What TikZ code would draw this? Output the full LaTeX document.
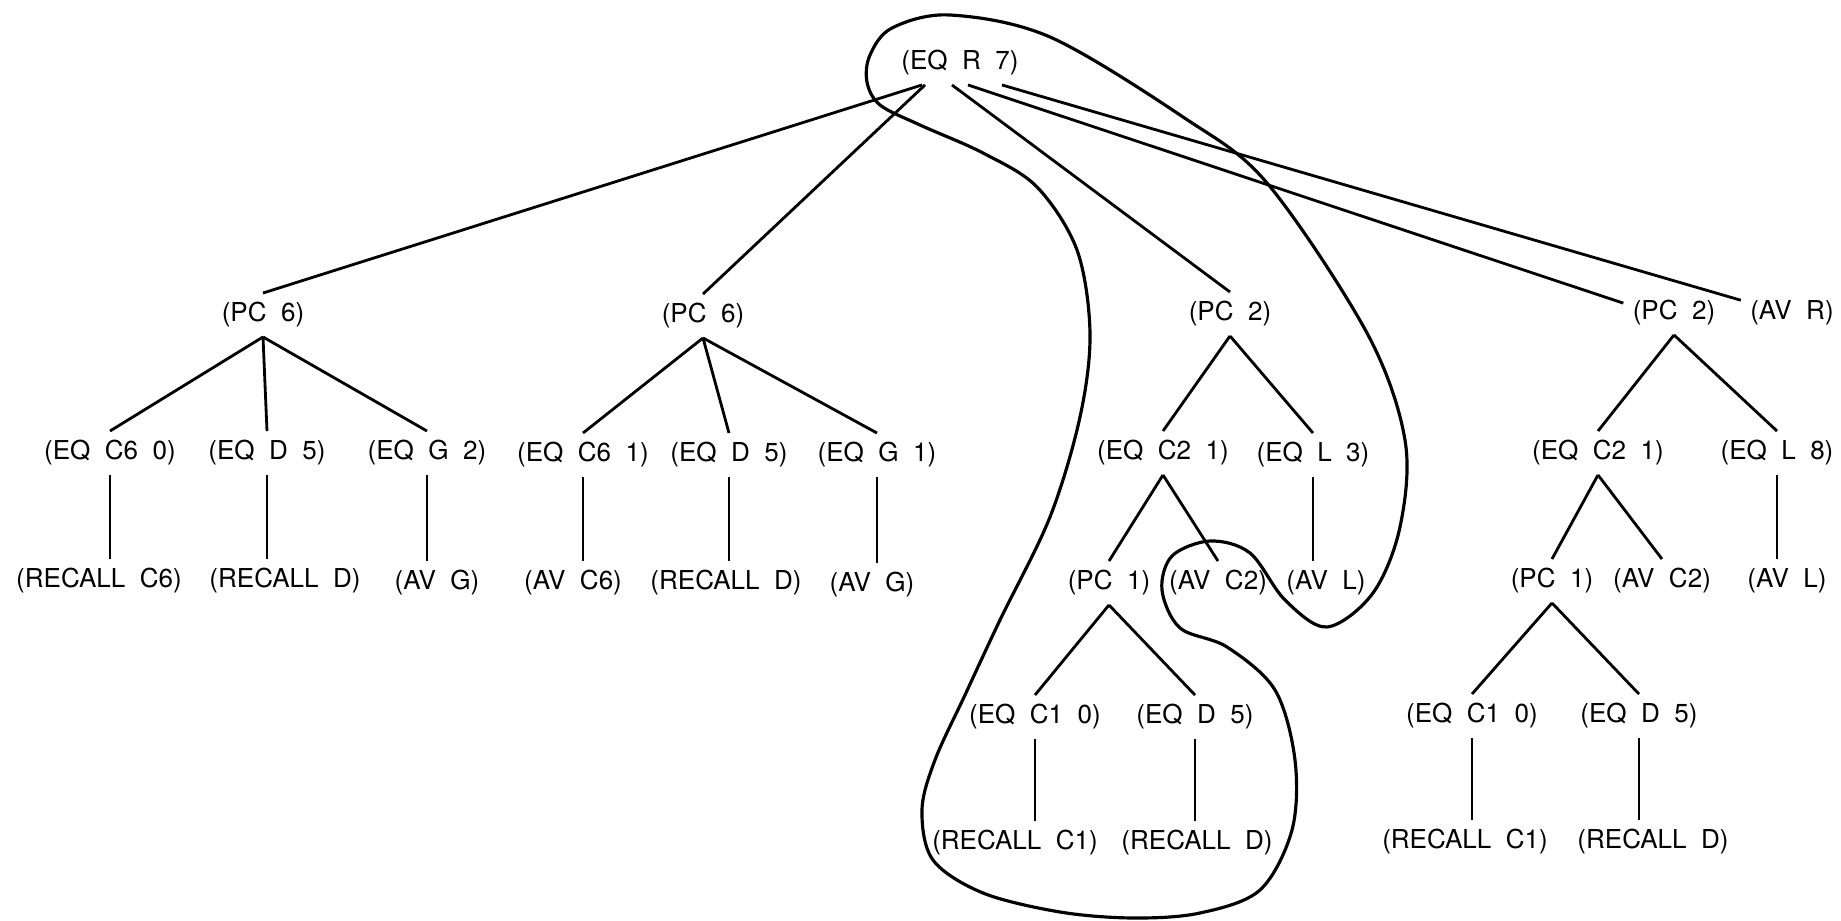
\documentclass[tikz,border=0pt]{standalone}
\usepackage{fontspec}
\setmainfont{TeX Gyre Heros}
\usetikzlibrary{calc}

% printout face with wide word gaps
\newcommand\termfont{\fontsize{7.4}{9}\selectfont\spaceskip=0.556em\relax}

\begin{document}
\begin{tikzpicture}[
  x=0.01cm, y=-0.01cm,
  term/.style={font=\termfont, inner sep=2.5pt},
  branch/.style={line width=0.8pt},
  ring/.style={line width=0.9pt, line join=round},
]
\useasboundingbox (0,0) rectangle (1841,921);

% --- Root and first level ---
\node[term] (root) at (960, 63)  {(EQ R 7)};
\node[term] (pcA)  at (263, 315) {(PC 6)};
\node[term] (pcB)  at (703, 316) {(PC 6)};
\node[term] (pcC)  at (1230, 314) {(PC 2)};
\node[term] (pcD)  at (1674, 313) {(PC 2)};
\node[term] (avR)  at (1792, 313) {(AV R)};

\draw[branch] ($(root.south)+(-38,0)$) -- (pcA.north);
\draw[branch] ($(root.south)+(-35,0)$) -- (pcB.north);
\draw[branch] ($(root.south)+(-8,0)$)  -- (pcC.north);
\draw[branch] ($(root.south)+(8,0)$)   -- (pcD.169);
\draw[branch] ($(root.south)+(42,0)$)  -- (avR.166);

% --- First PC 6 ---
\node[term] (eqA1)   at (110, 453) {(EQ C6 0)};
\node[term] (eqA2)   at (267, 453) {(EQ D 5)};
\node[term] (eqA3)   at (427, 453) {(EQ G 2)};
\node[term] (leafA1) at (99, 581)  {(RECALL C6)};
\node[term] (leafA2) at (285, 581) {(RECALL D)};
\node[term] (leafA3) at (437, 583) {(AV G)};

\draw[branch] (pcA.south) -- (eqA1.north);
\draw[branch] (pcA.south) -- (eqA2.north);
\draw[branch] (pcA.south) -- (eqA3.north);
\draw[branch] (eqA1.south) -- (eqA1.south |- leafA1.north);
\draw[branch] (eqA2.south) -- (eqA2.south |- leafA2.north);
\draw[branch] (eqA3.south) -- (eqA3.south |- leafA3.north);

% --- Second PC 6 ---
\node[term] (eqB1)   at (583, 455) {(EQ C6 1)};
\node[term] (eqB2)   at (729, 455) {(EQ D 5)};
\node[term] (eqB3)   at (877, 455) {(EQ G 1)};
\node[term] (leafB1) at (573, 583) {(AV C6)};
\node[term] (leafB2) at (726, 583) {(RECALL D)};
\node[term] (leafB3) at (872, 585) {(AV G)};

\draw[branch] (pcB.south) -- (eqB1.north);
\draw[branch] (pcB.south) -- (eqB2.north);
\draw[branch] (pcB.south) -- (eqB3.north);
\draw[branch] (eqB1.south) -- (eqB1.south |- leafB1.north);
\draw[branch] (eqB2.south) -- (eqB2.south |- leafB2.north);
\draw[branch] (eqB3.south) -- (eqB3.south |- leafB3.north);

% --- First PC 2 ---
\node[term] (eqC1)   at (1163, 453) {(EQ C2 1)};
\node[term] (eqC2)   at (1313, 455) {(EQ L 3)};
\node[term] (pcC1)   at (1109, 583) {(PC 1)};
\node[term] (avC1)   at (1218, 583) {(AV C2)};
\node[term] (avC2)   at (1326, 583) {(AV L)};
\node[term] (eqC3)   at (1035, 717) {(EQ C1 0)};
\node[term] (eqC4)   at (1195, 717) {(EQ D 5)};
\node[term] (leafC1) at (1015, 843) {(RECALL C1)};
\node[term] (leafC2) at (1197, 843) {(RECALL D)};

\draw[branch] (pcC.south) -- (eqC1.north);
\draw[branch] (pcC.south) -- (eqC2.north);
\draw[branch] (eqC1.south) -- (pcC1.north);
\draw[branch] (eqC1.south) -- (avC1.north);
\draw[branch] (eqC2.south) -- (eqC2.south |- avC2.north);
\draw[branch] (pcC1.south) -- (eqC3.north);
\draw[branch] (pcC1.south) -- (eqC4.north);
\draw[branch] (eqC3.south) -- (eqC3.south |- leafC1.north);
\draw[branch] (eqC4.south) -- (eqC4.south |- leafC2.north);

% --- Second PC 2 ---
\node[term] (eqD1)   at (1598, 453) {(EQ C2 1)};
\node[term] (eqD2)   at (1777, 453) {(EQ L 8)};
\node[term] (pcD1)   at (1552, 581) {(PC 1)};
\node[term] (avD1)   at (1662, 581) {(AV C2)};
\node[term] (avD2)   at (1787, 581) {(AV L)};
\node[term] (eqD3)   at (1472, 716) {(EQ C1 0)};
\node[term] (eqD4)   at (1639, 716) {(EQ D 5)};
\node[term] (leafD1) at (1465, 842) {(RECALL C1)};
\node[term] (leafD2) at (1653, 842) {(RECALL D)};

\draw[branch] (pcD.south) -- (eqD1.north);
\draw[branch] (pcD.south) -- (eqD2.north);
\draw[branch] (eqD1.south) -- (pcD1.north);
\draw[branch] (eqD1.south) -- (avD1.north);
\draw[branch] (eqD2.south) -- (eqD2.south |- avD2.north);
\draw[branch] (pcD1.south) -- (eqD3.north);
\draw[branch] (pcD1.south) -- (eqD4.north);
\draw[branch] (eqD3.south) -- (eqD3.south |- leafD1.north);
\draw[branch] (eqD4.south) -- (eqD4.south |- leafD2.north);

% --- Freehand loop round the selected subtree ---
\draw[ring] plot[smooth cycle, tension=0.55] coordinates {
  (950,15) (1050,37) (1183,117) (1267,183) (1367,333) (1405,440)
  (1400,527) (1373,593) (1327,627) (1285,600) (1250,553) (1210,541)
  (1172,556) (1162,590) (1180,628) (1227,647) (1275,690) (1295,760)
  (1292,830) (1260,890) (1200,913) (1133,918) (1060,912) (983,893)
  (933,860) (922,810) (935,760) (965,695) (1000,620) (1050,517)
  (1080,417) (1090,333) (1077,250) (1037,187) (983,153) (920,125)
  (880,105) (867,82) (870,55) (892,28)
};

\end{tikzpicture}
\end{document}
